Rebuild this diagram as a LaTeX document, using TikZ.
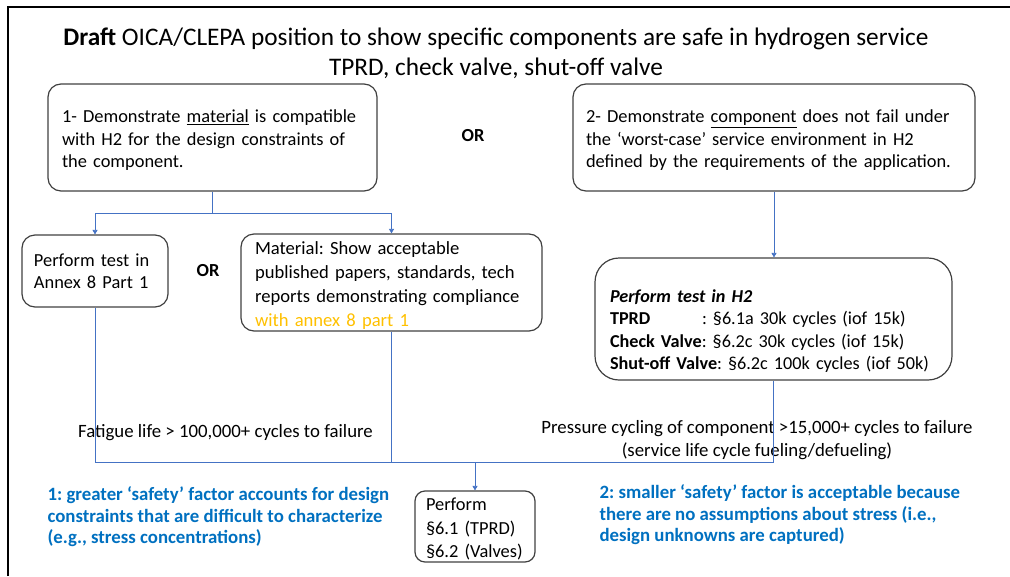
\documentclass[tikz,border=0pt]{standalone}
\usepackage{fontspec}
\setmainfont{Carlito}
\usetikzlibrary{arrows.meta,positioning}
\definecolor{linkblue}{HTML}{4472C4}
\definecolor{noteblue}{HTML}{0070C0}
\definecolor{boxgray}{HTML}{404040}
\definecolor{annexgold}{HTML}{FFC000}
\frenchspacing
\begin{document}
\begin{tikzpicture}[
   x=1pt,y=-1pt,
   every node/.style={font=\fontsize{18.4}{22.5}\selectfont},
   box/.style={draw=boxgray,line width=1.2pt,rounded corners=13pt,align=left,inner ysep=0pt},
   ortext/.style={font=\fontsize{18.4}{20}\selectfont\bfseries},
   note/.style={font=\fontsize{18.8}{21.5}\selectfont\bfseries,text=noteblue,align=left,anchor=west},
   cycles/.style={font=\fontsize{18.8}{23}\selectfont,align=center},
   link/.style={draw=linkblue,line width=0.7pt},
   to/.style={link,-{Triangle[width=5pt,length=4.5pt]}}]
\useasboundingbox (0,0) rectangle (1010,576);
\draw[line width=1.9pt] (8,576) |- (1010,7);
\node[font=\fontsize{25.3}{30}\selectfont,align=center] (title) at (496,53) {\textbf{Draft} OICA/CLEPA position to show specific components are safe in hydrogen service\\TPRD, check valve, shut-off valve};
\node[box,minimum height=107pt,text width=301pt,inner xsep=14pt] (mat) at (212.5,137.5) {\rule{0pt}{18.5pt}1- Demonstrate \underline{material} is compatible\\with H2 for the design constraints of\\the component.};
\node[ortext] (or1) at (473,136) {OR};
\node[box,minimum height=107pt,text width=376pt,inner xsep=13pt] (comp) at (774,137.5) {\rule{0pt}{18.5pt}2- Demonstrate \underline{component} does not fail under\\the ‘worst-case’ service environment in H2\\defined by the requirements of the application.};
\node[box,minimum height=72pt,text width=122pt,inner xsep=12pt] (annex) at (95,271) {Perform test in\\Annex 8 Part 1};
\node[ortext] (or2) at (208,271) {OR};
\node[box,minimum height=97pt,text width=273pt,inner xsep=14pt,font=\fontsize{18.6}{24}\selectfont] (lit) at (391.5,282.5) {\rule{0pt}{19.5pt}Material: Show acceptable\\published papers, standards, tech\\reports demonstrating compliance\\\textcolor{annexgold}{with annex 8 part 1}};
\node[box,rounded corners=24pt,minimum height=122pt,text width=327pt,inner xsep=15pt,font=\fontsize{18.2}{22.3}\selectfont] (h2test) at (773.5,319) {\rule{0pt}{37pt}\textbf{\textit{Perform test in H2}}\\\makebox[92pt][l]{\textbf{TPRD}}: §6.1a 30k cycles (iof 15k)\\\textbf{Check Valve}: §6.2c 30k cycles (iof 15k)\\\textbf{Shut-off Valve}: §6.2c 100k cycles (iof 50k)};
\node[box,rounded corners=10pt,minimum height=71pt,text width=98pt,inner xsep=11pt,font=\fontsize{18.4}{23.5}\selectfont] (perf) at (475,526.5) {\rule{0pt}{18pt}Perform\\§6.1 (TPRD)\\§6.2 (Valves)};
\node[cycles] (fatigue) at (225.5,433) {Fatigue life > 100,000+ cycles to failure};
\node[cycles] (pressure) at (757,440.5) {Pressure cycling of component >15,000+ cycles to failure\\(service life cycle fueling/defueling)};
\node[note] (greater) at (44,517) {1: greater ‘safety’ factor accounts for design\\constraints that are difficult to characterize\\(e.g., stress concentrations)};
\node[note] (smaller) at (596,515) {2: smaller ‘safety’ factor is acceptable because\\there are no assumptions about stress (i.e.,\\design unknowns are captured)};
\coordinate (fork) at (mat.south |- 0,213);
\draw[link] (mat.south) -- (fork);
\draw[to] (fork) -| (annex.north);
\draw[to] (fork) -| (lit.north);
\draw[to] (comp.south) -- (comp.south |- h2test.north);
\coordinate (join) at (perf.north |- 0,462);
\draw[link] (annex.south) |- (h2test.south |- join) -- (h2test.south);
\draw[link] (lit.south) -- (lit.south |- join);
\draw[to] (join) -- (perf.north);
\end{tikzpicture}
\end{document}
